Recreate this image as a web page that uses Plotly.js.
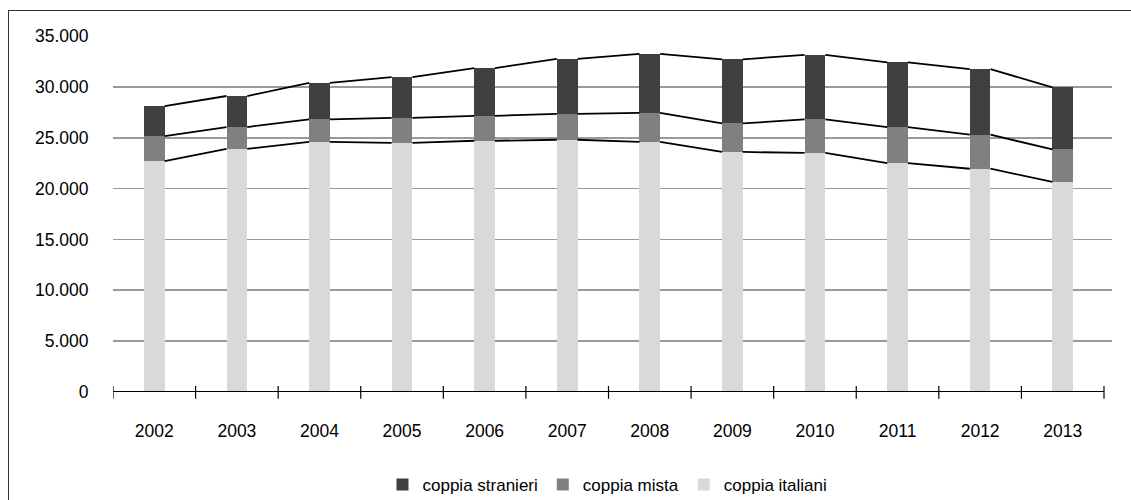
<!DOCTYPE html>
<html>
<head>
<meta charset="utf-8">
<script src="https://cdn.plot.ly/plotly-3.0.1.min.js"></script>
<style>
  html, body { margin: 0; padding: 0; background: #fff; }
  #frame { position: absolute; left: 8px; top: 10px; width: 1200px; height: 600px;
           border-left: 1.5px solid #333; border-top: 1.5px solid #333; }
  #chart { position: absolute; left: 0; top: 0; width: 1131px; height: 500px; }
</style>
</head>
<body>
<div id="frame"></div>
<div id="chart"></div>
<script>
const years = ['2002','2003','2004','2005','2006','2007','2008','2009','2010','2011','2012','2013'];
const coppiaItaliani  = [22700, 23900, 24600, 24500, 24700, 24800, 24600, 23600, 23500, 22500, 21950, 20650];
const coppiaMista     = [2450, 2150, 2200, 2450, 2450, 2550, 2850, 2800, 3300, 3550, 3350, 3200];
const coppiaStranieri = [2950, 3050, 3600, 4000, 4700, 5400, 5800, 6300, 6350, 6350, 6450, 6100];

const FONT = '"Liberation Sans", Arial, sans-serif';
const idx = years.map((_, i) => i);
const BW = 0.25;

const cum1 = coppiaItaliani.slice();
const cum2 = coppiaItaliani.map((v, i) => v + coppiaMista[i]);
const cum3 = cum2.map((v, i) => v + coppiaStranieri[i]);

function seriesLine(cum) {
  const xs = [], ys = [];
  for (let i = 0; i < cum.length - 1; i++) {
    xs.push(i + BW / 2, i + 1 - BW / 2, null);
    ys.push(cum[i], cum[i + 1], null);
  }
  return { type: 'scatter', mode: 'lines', x: xs, y: ys, showlegend: false,
           hoverinfo: 'skip', line: { color: '#000', width: 1.8 }, connectgaps: false };
}

const traces = [
  { type: 'bar', name: 'coppia italiani', x: idx, y: coppiaItaliani, width: BW, marker: { color: '#d9d9d9' } },
  { type: 'bar', name: 'coppia mista', x: idx, y: coppiaMista, width: BW, marker: { color: '#808080' } },
  { type: 'bar', name: 'coppia stranieri', x: idx, y: coppiaStranieri, width: BW, marker: { color: '#404040' } },
  seriesLine(cum1), seriesLine(cum2), seriesLine(cum3)
];

const shapes = [
  { type: 'line', xref: 'x', yref: 'y', x0: -0.5, x1: years.length - 0.5, y0: 0, y1: 0,
    line: { color: '#000', width: 1.8 }, layer: 'above' }
];
for (let k = 0; k <= years.length; k++) {
  shapes.push({ type: 'line', xref: 'x', yref: 'paper', x0: k - 0.5, x1: k - 0.5, y0: -0.019, y1: 0.017,
    line: { color: '#000', width: 1.2 }, layer: 'above' });
}

const layout = {
  width: 1131, height: 500,
  margin: { l: 113, r: 19, t: 36, b: 108, autoexpand: false },
  paper_bgcolor: 'rgba(0,0,0,0)', plot_bgcolor: 'rgba(0,0,0,0)',
  barmode: 'stack',
  separators: ',.',
  font: { family: FONT, size: 17.5, color: '#000' },
  showlegend: true,
  legend: { orientation: 'h', x: 0.495, xanchor: 'center', y: -0.261, yanchor: 'middle',
            traceorder: 'reversed', font: { family: FONT, size: 17, color: '#000' } },
  xaxis: { range: [-0.5, years.length - 0.5 + 8 / 82.6], tickmode: 'array', tickvals: idx, ticktext: years,
           showgrid: false, zeroline: false, showline: false,
           ticks: 'outside', ticklen: 23, tickcolor: 'rgba(0,0,0,0)', fixedrange: true },
  yaxis: { range: [0, 35000], dtick: 5000, tick0: 0, tickformat: ',d',
           showgrid: true, gridcolor: '#9a9a9a', gridwidth: 1.8, zeroline: false, showline: false,
           ticks: 'outside', ticklen: 20, tickcolor: 'rgba(0,0,0,0)', fixedrange: true },
  shapes: shapes
};

Plotly.newPlot('chart', traces, layout, { displayModeBar: false, staticPlot: true });
</script>
</body>
</html>
